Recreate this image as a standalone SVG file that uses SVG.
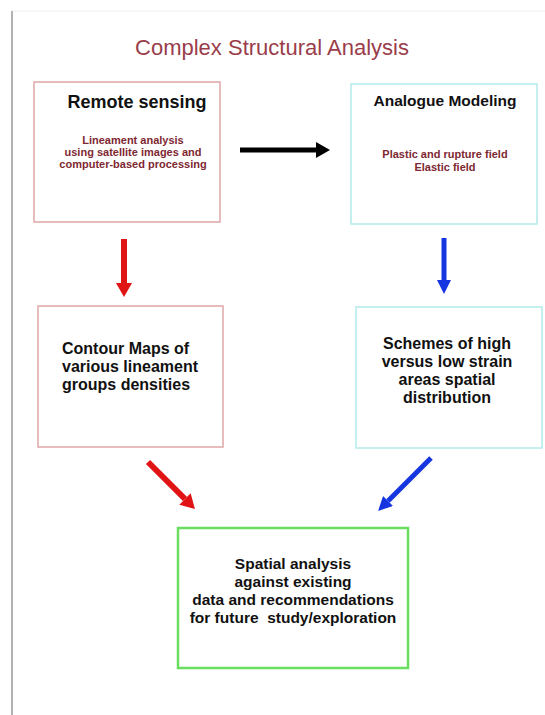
<svg xmlns="http://www.w3.org/2000/svg" width="545" height="715" viewBox="0 0 545 715">
<style>
.box{fill:#ffffff;stroke-width:1.5}
.red{stroke:#dfa6a6}
.cyan{stroke:#b3ebeb}
.green{stroke:#6ade5e;stroke-width:2.5}
.h{font-family:"Liberation Sans",Arial,sans-serif;font-weight:bold;fill:#111111}
.s{font-family:"Liberation Sans",Arial,sans-serif;font-weight:bold;font-size:11px;fill:#7e2832}
</style>
<defs>
<marker id="hk" markerUnits="userSpaceOnUse" markerWidth="14" markerHeight="16" refX="0" refY="8" orient="auto"><path d="M0,0 L14,8 L0,16 z" fill="#000000"/></marker>
<marker id="hr" markerUnits="userSpaceOnUse" markerWidth="14" markerHeight="16" refX="0" refY="8" orient="auto"><path d="M0,0 L14,8 L0,16 z" fill="#e01414"/></marker>
<marker id="hb" markerUnits="userSpaceOnUse" markerWidth="14" markerHeight="14" refX="0" refY="7" orient="auto"><path d="M0,0 L14,7 L0,14 z" fill="#1535e0"/></marker>
</defs>
<rect width="545" height="715" fill="#ffffff"/>
<line x1="12" y1="11" x2="545" y2="11" stroke="#eeeeee" stroke-width="1"/>
<line x1="12" y1="11" x2="12" y2="715" stroke="#9a9a9a" stroke-width="1.5"/>
<text x="272" y="55" text-anchor="middle" font-family="'Liberation Sans',Arial,sans-serif" font-size="22" fill="#9a3d4a">Complex Structural Analysis</text>

<g id="remote-sensing">
<rect class="box red" x="34" y="82" width="186" height="140"/>
<text class="h" x="137" y="108" text-anchor="middle" font-size="18">Remote sensing</text>
<text class="s" x="133" y="144" text-anchor="middle">Lineament analysis</text>
<text class="s" x="133" y="156" text-anchor="middle">using satellite images and</text>
<text class="s" x="133" y="168" text-anchor="middle">computer-based processing</text>
</g>

<g id="analogue-modeling">
<rect class="box cyan" x="351" y="84" width="186" height="140"/>
<text class="h" x="445" y="106" text-anchor="middle" font-size="15.5">Analogue Modeling</text>
<text class="s" x="445" y="158" text-anchor="middle">Plastic and rupture field</text>
<text class="s" x="445" y="171" text-anchor="middle">Elastic field</text>
</g>

<g id="contour-maps">
<rect class="box red" x="38" y="306" width="185" height="141"/>
<text class="h" x="62" y="354" font-size="16">Contour Maps of</text>
<text class="h" x="62" y="372" font-size="16">various lineament</text>
<text class="h" x="62" y="390" font-size="16">groups densities</text>
</g>

<g id="strain-schemes">
<rect class="box cyan" x="356" y="307" width="186" height="141"/>
<text class="h" x="447" y="349" text-anchor="middle" font-size="16">Schemes of high</text>
<text class="h" x="447" y="367" text-anchor="middle" font-size="16">versus low strain</text>
<text class="h" x="447" y="385" text-anchor="middle" font-size="16">areas spatial</text>
<text class="h" x="447" y="403" text-anchor="middle" font-size="16">distribution</text>
</g>

<g id="spatial-analysis">
<rect class="box green" x="178" y="528" width="230" height="140"/>
<text class="h" x="293" y="569" text-anchor="middle" font-size="15.5">Spatial analysis</text>
<text class="h" x="293" y="587" text-anchor="middle" font-size="15.5">against existing</text>
<text class="h" x="293" y="605" text-anchor="middle" font-size="15.5">data and recommendations</text>
<text class="h" x="293" y="623" text-anchor="middle" font-size="15.5" xml:space="preserve">for future  study/exploration</text>
</g>

<g id="connectors">
<line x1="240" y1="150" x2="316" y2="150" stroke="#000000" stroke-width="5" marker-end="url(#hk)"/>
<line x1="124" y1="239" x2="124" y2="283" stroke="#e01414" stroke-width="6" marker-end="url(#hr)"/>
<line x1="444" y1="238" x2="444" y2="280" stroke="#1535e0" stroke-width="5" marker-end="url(#hb)"/>
<line x1="148" y1="462" x2="185" y2="499" stroke="#e01414" stroke-width="6" marker-end="url(#hr)"/>
<line x1="431" y1="458" x2="388" y2="501" stroke="#1535e0" stroke-width="5" marker-end="url(#hb)"/>
</g>
</svg>
